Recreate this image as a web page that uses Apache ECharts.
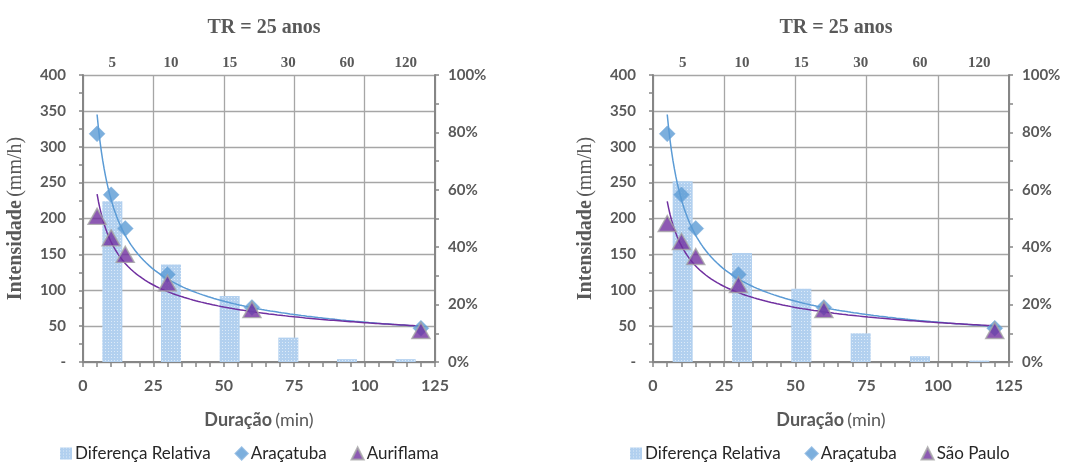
<!DOCTYPE html>
<html>
<head>
    <meta charset="UTF-8">
    <title>TR = 25 anos</title>
    <style type="text/css">
        *{ margin: 0; padding: 0; }
        body{ background: #fff; }
        #main{ width: 1070px; height: 464px; }
    </style>
    <script src="https://cdn.jsdelivr.net/npm/echarts@6/dist/echarts.min.js"></script>
</head>
<body>
<div id="main"></div>
<script type="text/javascript">
    // dados
    var categorias = ['5', '10', '15', '30', '60', '120'];
    var duracoes = [5, 10, 15, 30, 60, 120];
    var difEsq = [0.56, 0.34, 0.23, 0.085, 0.01, 0.01];
    var difDir = [0.63, 0.38, 0.255, 0.10, 0.02, 0.005];
    var aracatuba = [318, 233, 186, 122, 76, 47];
    var auriflama = [203, 173, 150, 110, 73, 44];
    var saoPaulo = [193, 168, 147, 108, 73, 44];

    var cinza = '#595959';
    var serif = '"Liberation Serif", "DejaVu Serif", serif';
    var sans = 'Lato, "Open Sans", sans-serif';
    var azul = '#5B9BD5';
    var roxo = '#7030A0';

    function pontos(vals) {
        return duracoes.map(function (t, i) { return [t, vals[i]]; });
    }

    // linha de tendência potência (mínimos quadrados em log-log), como no Excel
    function tendencia(vals) {
        var n = vals.length, mx = 0, my = 0, sxy = 0, sxx = 0;
        for (var i = 0; i < n; i++) { mx += Math.log(duracoes[i]); my += Math.log(vals[i]); }
        mx /= n; my /= n;
        for (var j = 0; j < n; j++) {
            var dx = Math.log(duracoes[j]) - mx;
            sxy += dx * (Math.log(vals[j]) - my);
            sxx += dx * dx;
        }
        var b = sxy / sxx, a = Math.exp(my - b * mx);
        var out = [];
        for (var t = duracoes[0]; t <= duracoes[n - 1]; t += 0.5) out.push([t, a * Math.pow(t, b)]);
        return out;
    }

    var decal = {
        symbol: 'rect', symbolSize: 1,
        dashArrayX: [[1, 2]], dashArrayY: [1, 2],
        color: 'rgba(255,255,255,0.55)'
    };

    var grids = [
        {left: 83, top: 75, width: 352, height: 287, cx: 259, lx: 60},
        {left: 653, top: 75, width: 356, height: 287, cx: 831, lx: 630}
    ];

    var option = {
        animation: false,
        title: [], grid: [], xAxis: [], yAxis: [], legend: [], series: []
    };

    function montar(g, dif, outra, nomeOutra) {
        var gi = option.grid.length;
        option.grid.push({left: grids[g].left, top: grids[g].top, width: grids[g].width, height: grids[g].height});
        option.title.push({
            text: 'TR = 25 anos', left: grids[g].cx, top: 13, textAlign: 'center',
            textStyle: {fontFamily: serif, fontWeight: 'bold', fontSize: 20, color: cinza}
        });
        var xv = option.xAxis.length;
        option.xAxis.push({
            type: 'value', gridIndex: gi, min: 0, max: 125, interval: 25, position: 'bottom',
            axisLine: {show: true, lineStyle: {color: '#868686', width: 2}},
            axisTick: {show: true, length: 5, lineStyle: {color: '#868686', width: 1.5}},
            minorTick: {show: true, splitNumber: 5, length: 5, lineStyle: {color: '#868686', width: 1.5}},
            splitLine: {show: true, lineStyle: {color: '#a6a6a6', width: 1.3}},
            axisLabel: {margin: 16, fontFamily: sans, fontWeight: 'bold', fontSize: 16, color: cinza},
            name: '{b|Duração} {n|(min)}', nameLocation: 'middle', nameGap: 49,
            nameTextStyle: {rich: {
                b: {fontFamily: sans, fontWeight: 'bold', fontSize: 18, color: cinza},
                n: {fontFamily: sans, fontSize: 18, color: cinza}
            }}
        });
        var xc = option.xAxis.length;
        option.xAxis.push({
            type: 'category', gridIndex: gi, position: 'top', data: categorias,
            axisLine: {show: false}, axisTick: {show: false}, splitLine: {show: false},
            axisLabel: {margin: 4, fontFamily: serif, fontWeight: 'bold', fontSize: 15, color: cinza}
        });
        var yl = option.yAxis.length;
        option.yAxis.push({
            type: 'value', gridIndex: gi, min: 0, max: 400, interval: 50, position: 'left',
            axisLine: {show: true, lineStyle: {color: '#868686', width: 2}},
            axisTick: {show: true, length: 4, lineStyle: {color: '#868686', width: 1.5}},
            minorTick: {show: true, splitNumber: 2, length: 4, lineStyle: {color: '#868686', width: 1.5}},
            splitLine: {show: true, lineStyle: {color: '#a6a6a6', width: 1.3}},
            axisLabel: {
                margin: 17, fontFamily: sans, fontWeight: 'bold', fontSize: 15, color: cinza,
                formatter: function (v) { return v === 0 ? '-' : v; }
            },
            name: '{b|Intensidade} {n|(mm/h)}', nameLocation: 'middle', nameGap: 57,
            nameTextStyle: {rich: {
                b: {fontFamily: serif, fontWeight: 'bold', fontSize: 20, color: cinza},
                n: {fontFamily: serif, fontSize: 20, color: cinza}
            }}
        });
        var yr = option.yAxis.length;
        option.yAxis.push({
            type: 'value', gridIndex: gi, min: 0, max: 1, interval: 0.2, position: 'right',
            axisLine: {show: true, lineStyle: {color: '#868686', width: 2}},
            axisTick: {show: true, length: 4, lineStyle: {color: '#868686', width: 1.5}},
            minorTick: {show: true, splitNumber: 2, length: 4, lineStyle: {color: '#868686', width: 1.5}},
            splitLine: {show: false},
            axisLabel: {
                margin: 13, fontFamily: sans, fontWeight: 'bold', fontSize: 15, color: cinza,
                formatter: function (v) { return Math.round(v * 100) + '%'; }
            }
        });

        option.series.push({
            name: 'Diferença Relativa', type: 'bar', xAxisIndex: xc, yAxisIndex: yr,
            data: dif, barWidth: 20, z: 1,
            itemStyle: {color: '#b2d0ef', decal: decal}
        });
        option.series.push({
            name: 'tend-ara-' + g, type: 'line', xAxisIndex: xv, yAxisIndex: yl,
            data: tendencia(aracatuba), showSymbol: false, silent: true, z: 2,
            lineStyle: {color: azul, width: 1.5}
        });
        option.series.push({
            name: 'tend-out-' + g, type: 'line', xAxisIndex: xv, yAxisIndex: yl,
            data: tendencia(outra), showSymbol: false, silent: true, z: 2,
            lineStyle: {color: roxo, width: 1.5}
        });
        option.series.push({
            name: 'Araçatuba', type: 'scatter', xAxisIndex: xv, yAxisIndex: yl,
            data: pontos(aracatuba), symbol: 'diamond', symbolSize: 16, z: 3,
            itemStyle: {color: azul, borderColor: '#7fb0de', borderWidth: 0.5}
        });
        option.series.push({
            name: nomeOutra, type: 'scatter', xAxisIndex: xv, yAxisIndex: yl,
            data: pontos(outra), symbol: 'triangle', symbolSize: [18, 16], z: 4,
            itemStyle: {color: roxo, borderColor: '#a5a5a5', borderWidth: 1.5}
        });

        option.legend.push({
            left: grids[g].lx, top: 445, orient: 'horizontal', itemGap: 24,
            itemWidth: 12, itemHeight: 12, padding: 0,
            textStyle: {fontFamily: sans, fontSize: 17, color: '#262626', padding: [0, 0, 0, -2]},
            data: [
                {name: 'Diferença Relativa', icon: 'rect'},
                {name: 'Araçatuba', icon: 'diamond'},
                {name: nomeOutra, icon: 'triangle'}
            ]
        });
    }

    montar(0, difEsq, auriflama, 'Auriflama');
    montar(1, difDir, saoPaulo, 'São Paulo');

    var myChart = echarts.init(document.getElementById('main'));
    myChart.setOption(option);
</script>
</body>
</html>
